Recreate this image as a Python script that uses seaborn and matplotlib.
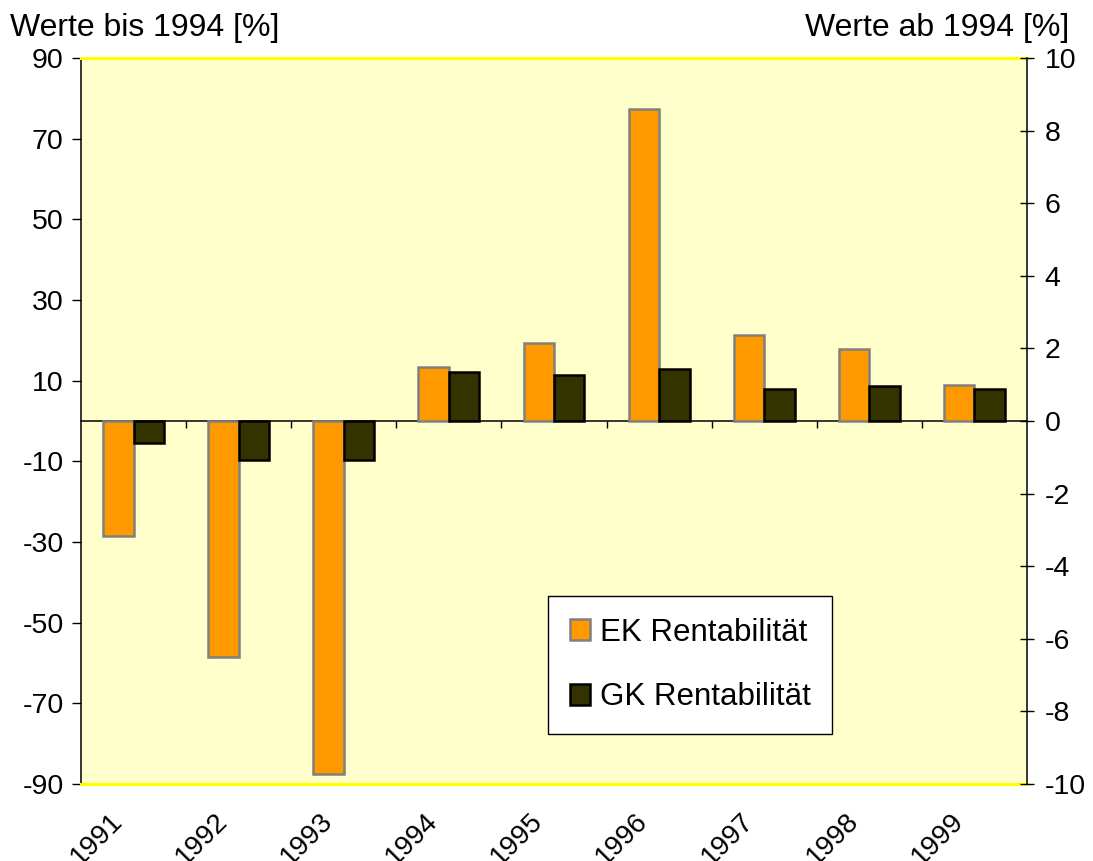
import numpy as np
import pandas as pd
import seaborn as sns
import matplotlib.pyplot as plt
from matplotlib.patches import Patch
from matplotlib.transforms import ScaledTranslation

sns.set_theme(style="white")
plt.rcParams['font.family'] = ['Liberation Sans', 'DejaVu Sans']
plt.rcParams['text.color'] = 'black'
plt.rcParams['xtick.color'] = 'black'
plt.rcParams['ytick.color'] = 'black'
plt.rcParams['axes.unicode_minus'] = False

# data
years = ["1991", "1992", "1993", "1994", "1995", "1996", "1997", "1998", "1999"]
years_bis = years[:3]   # left scale
years_ab = years[3:]    # right scale
ek_bis = [-28.6, -58.5, -87.4]
gk_bis = [-5.4, -9.7, -9.7]
ek_ab = [1.49, 2.15, 8.59, 2.36, 1.97, 1.00]
gk_ab = [1.35, 1.28, 1.44, 0.87, 0.96, 0.87]

series = ["EK Rentabilität", "GK Rentabilität"]
palette = {"EK Rentabilität": "#FF9900", "GK Rentabilität": "#333300"}
edges = {"EK Rentabilität": "#808080", "GK Rentabilität": "#000000"}

bis = pd.DataFrame({"year": years_bis * 2,
                    "series": [series[0]] * 3 + [series[1]] * 3,
                    "value": ek_bis + gk_bis})
ab = pd.DataFrame({"year": years_ab * 2,
                   "series": [series[0]] * 6 + [series[1]] * 6,
                   "value": ek_ab + gk_ab})

fig = plt.figure(figsize=(10.93, 8.61), dpi=100)
ax = fig.add_axes([81 / 1093, 1 - 784 / 861, 946 / 1093, 726 / 861])
ax2 = ax.twinx()

for a, df in [(ax, bis), (ax2, ab)]:
    sns.barplot(data=df, x="year", y="value", hue="series", order=years, hue_order=series,
                palette=palette, width=0.58, saturation=1, errorbar=None, legend=False, ax=a)
    for cont, s in zip(a.containers, series):
        for bar in cont:
            bar.set_edgecolor(edges[s])
            bar.set_linewidth(1.8)
    a.set_xlabel("")
    a.set_ylabel("")

ax.set_xlim(-0.5, 8.5)
ax.set_ylim(-90, 90)
ax.set_yticks(range(-90, 91, 20))
ax2.set_ylim(-10, 10)
ax2.set_yticks(range(-10, 11, 2))

ax.set_facecolor("#FFFFCC")
for side in ["top", "bottom"]:
    ax.spines[side].set_color("#FFFF00")
    ax.spines[side].set_linewidth(2.2)
    ax2.spines[side].set_visible(False)
ax.spines["left"].set_color("black")
ax.spines["left"].set_linewidth(1.1)
ax.spines["right"].set_visible(False)
ax2.spines["left"].set_visible(False)
ax2.spines["right"].set_color("black")
ax2.spines["right"].set_linewidth(1.1)

ax.tick_params(axis="y", left=True, direction="out", length=6.5, width=1, labelsize=20.5, pad=6)
ax2.tick_params(axis="y", right=True, direction="inout", length=9.5, width=1, labelsize=20.5, pad=8)
ax.tick_params(axis="x", bottom=True, length=0, labelsize=20, pad=24)
plt.setp(ax.get_xticklabels(), rotation=45, ha="right", va="center", rotation_mode="anchor")
for lab in ax.get_xticklabels():
    lab.set_transform(lab.get_transform() + ScaledTranslation(-0.15, 0, fig.dpi_scale_trans))

# zero line with category separators
sec = ax.secondary_xaxis(0.5)
sec.set_alignment("bottom")
sec.set_xticks(np.arange(0.5, 8, 1))
sec.tick_params(axis="x", bottom=True, direction="out", length=5, width=1, labelbottom=False)
sec.spines["bottom"].set_color("black")
sec.spines["bottom"].set_linewidth(1.1)

fig.text(10 / 1093, 1 - 36 / 861, "Werte bis 1994 [%]", fontsize=23, ha="left", va="baseline")
fig.text(1069 / 1093, 1 - 36 / 861, "Werte ab 1994 [%]", fontsize=23, ha="right", va="baseline")

handles = [Patch(facecolor=palette[s], edgecolor=edges[s], linewidth=1.8) for s in series]
leg = fig.legend(handles, series, loc="upper left", bbox_to_anchor=(548 / 1093, 1 - 596 / 861),
                 fontsize=22.5, frameon=True, fancybox=False, framealpha=1, edgecolor="black",
                 borderpad=0.7, labelspacing=1.1, handlelength=0.65, handleheight=0.65,
                 handletextpad=0.3, borderaxespad=0)
leg.get_frame().set_linewidth(1.0)

fig.savefig("out.png", dpi=100)
